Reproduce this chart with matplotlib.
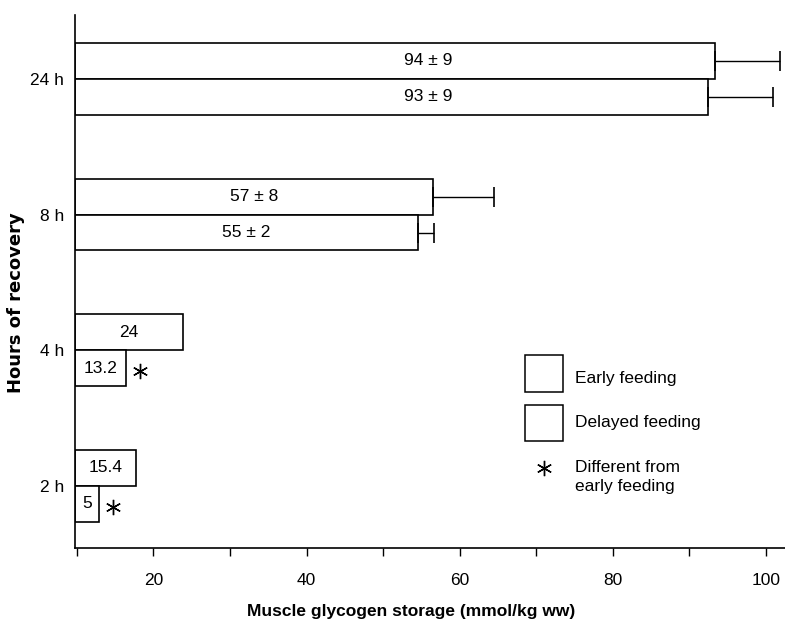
import numpy as np
import matplotlib.pyplot as plt
from matplotlib.patches import Rectangle

horas = ["2 h", "4 h", "8 h", "24 h"]
# bar lengths as drawn in the figure (mmol/kg ww)
precoce = [17.7, 23.9, 56.5, 93.3]
tardio = [12.9, 16.4, 54.6, 92.4]
erro_precoce = [0, 0, 8.0, 8.6]
erro_tardio = [0, 0, 2.1, 8.5]
rot_precoce = ["15.4", "24", "57 ± 8", "94 ± 9"]
rot_tardio = ["5", "13.2", "55 ± 2", "93 ± 9"]
signif = [True, True, False, False]

plt.rcParams['font.family'] = ['Liberation Sans', 'DejaVu Sans']

fig = plt.figure(figsize=(7.85, 6.26), dpi=100)
ax = fig.add_axes([0.0955, 0.1246, 0.9045, 0.8514])

y = np.arange(len(horas))
h = 0.265
inicio = 9.75
asterisco = (6, 2, 0)

ax.barh(y + h / 2, np.array(precoce) - inicio, left=inicio, height=h,
        color='white', edgecolor='black', linewidth=1.2)
ax.barh(y - h / 2, np.array(tardio) - inicio, left=inicio, height=h,
        color='white', edgecolor='black', linewidth=1.2)

for i in range(len(horas)):
    if erro_precoce[i] > 0:
        ax.errorbar(precoce[i], y[i] + h / 2, xerr=[[0], [erro_precoce[i]]],
                    fmt='none', ecolor='black', elinewidth=1, capsize=7, capthick=1.2)
    if erro_tardio[i] > 0:
        ax.errorbar(tardio[i], y[i] - h / 2, xerr=[[0], [erro_tardio[i]]],
                    fmt='none', ecolor='black', elinewidth=1, capsize=7, capthick=1.2)

    # labels inside bars (long bars have label shifted left of center)
    xp = (inicio + precoce[i]) / 2 if precoce[i] < 80 else 55.9
    xt = (inicio + tardio[i]) / 2 if tardio[i] < 80 else 55.9
    ax.text(xp, y[i] + h / 2, rot_precoce[i], ha='center', va='center', fontsize=12.5)
    ax.text(xt, y[i] - h / 2, rot_tardio[i], ha='center', va='center', fontsize=12.5)
    if signif[i]:
        ax.plot(tardio[i] + 1.8, y[i] - h / 2 - 0.02, marker=asterisco,
                markersize=11, color='black', markeredgewidth=1.0)

ax.set_xlim(inicio, 102.5)
ax.set_ylim(-0.457, 3.47)
ax.set_xticks(np.arange(10, 101, 10))
ax.set_xticklabels(["" if v % 20 else str(v) for v in range(10, 101, 10)], fontsize=12.5)
ax.set_yticks(y)
ax.set_yticklabels(horas, fontsize=12.5)
ax.tick_params(axis='y', length=0, pad=8)
ax.tick_params(axis='x', direction='out', length=6, width=1, pad=12)
for s in ['top', 'right']:
    ax.spines[s].set_visible(False)
ax.spines['left'].set_linewidth(1.2)
ax.spines['bottom'].set_linewidth(1.2)

ax.set_xlabel("Muscle glycogen storage (mmol/kg ww)", fontsize=12.5, fontweight='bold')
ax.set_ylabel("Hours of recovery", fontsize=13, fontweight='bold', family='DejaVu Sans')
ax.xaxis.set_label_coords(0.473, -0.105)
ax.yaxis.set_label_coords(-0.071, 0.46)

# legend drawn by hand in axes fraction
for yy in [0.293, 0.200]:
    ax.add_patch(Rectangle((0.634, yy), 0.054, 0.069, transform=ax.transAxes,
                           facecolor='white', edgecolor='black', linewidth=1.1))
ax.text(0.704, 0.318, "Early feeding", transform=ax.transAxes, va='center', fontsize=12.5)
ax.text(0.704, 0.236, "Delayed feeding", transform=ax.transAxes, va='center', fontsize=12.5)
ax.plot(0.660, 0.150, marker=asterisco, markersize=11, color='black',
        markeredgewidth=1.0, transform=ax.transAxes)
ax.text(0.704, 0.133, "Different from\nearly feeding", transform=ax.transAxes,
        va='center', fontsize=12.5, linespacing=1.3)

plt.savefig("out.png", dpi=100)
